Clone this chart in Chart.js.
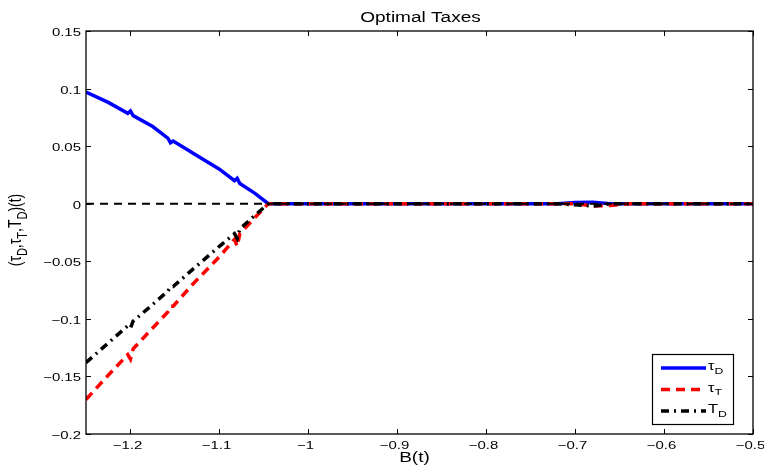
<!DOCTYPE html>
<html>
<head>
<meta charset="utf-8">
<script src="https://cdn.jsdelivr.net/npm/chart.js@4.4.1/dist/chart.umd.min.js"></script>
<style>
  html, body { margin: 0; padding: 0; background: #fff; }
  canvas { display: block; }
</style>
</head>
<body>
<canvas id="grafico" width="764" height="469"></canvas>
<script>
// Dados
const bValues = [-1.25, -1.225, -1.203, -1.2, -1.197, -1.175, -1.158, -1.155, -1.152, -1.13, -1.1,
  -1.083, -1.08, -1.077, -1.06, -1.045, -1.0, -0.9, -0.8, -0.72, -0.7, -0.68, -0.66, -0.64, -0.6, -0.5];
const tauD = [0.097, 0.088, 0.0785, 0.0805, 0.0765, 0.067, 0.057, 0.053, 0.0545, 0.044, 0.030,
  0.020, 0.022, 0.0175, 0.009, 0, 0, 0, 0, 0, 0.001, 0.0012, 0, 0, 0, 0];
const tauT = [-0.170, -0.149, -0.131, -0.135, -0.126, -0.108, -0.094, -0.089, -0.089, -0.070, -0.046,
  -0.031, -0.037, -0.026, -0.012, 0, 0, 0, 0, 0, 0, -0.002, -0.0015, 0, 0, 0];
const capTD = [-0.138, -0.121, -0.106, -0.108, -0.102, -0.0875, -0.076, -0.072, -0.072, -0.057, -0.037,
  -0.026, -0.030, -0.022, -0.010, 0, 0, 0, 0, 0, -0.001, -0.002, 0, 0, 0, 0];
const zeroLineX = [-1.25, -0.5];
const zeroLineY = [0, 0];

const xTicks = [-1.2, -1.1, -1.0, -0.9, -0.8, -0.7, -0.6, -0.5];
const yTicks = [-0.2, -0.15, -0.1, -0.05, 0, 0.05, 0.1, 0.15];

const FONT = "'Liberation Sans', Arial, Helvetica, sans-serif";
const ESTICAR = 1.36; // a figura original foi esticada na horizontal

function pares(xs, ys) {
  return xs.map((x, i) => ({ x: x, y: ys[i] }));
}

function formatTick(v) {
  return String(+v.toFixed(2)).replace('-', '\u2212');
}

// texto com subscritos: partes [texto, ehSub], esticado na horizontal
function textoSub(ctx, partes, x, y, tam, alinhar, esticar) {
  const sub = Math.round(tam * 0.75);
  let largura = 0;
  partes.forEach(p => {
    ctx.font = (p[1] ? sub : tam) + 'px ' + FONT;
    largura += ctx.measureText(p[0]).width;
  });
  ctx.save();
  ctx.translate(x, y);
  ctx.scale(esticar, 1);
  let cx = alinhar === 'center' ? -largura / 2 : (alinhar === 'right' ? -largura : 0);
  ctx.textAlign = 'left';
  ctx.textBaseline = 'alphabetic';
  partes.forEach(p => {
    ctx.font = (p[1] ? sub : tam) + 'px ' + FONT;
    ctx.fillText(p[0], cx, p[1] ? tam * 0.33 : 0);
    cx += ctx.measureText(p[0]).width;
  });
  ctx.restore();
}

const estilos = [
  { label: [['\u03c4', 0], ['D', 1]], color: 'rgb(0,0,255)', dash: [] },
  { label: [['\u03c4', 0], ['T', 1]], color: 'rgb(255,0,0)', dash: [9, 6] },
  { label: [['T', 0], ['D', 1]], color: 'rgb(0,0,0)', dash: [8, 5, 2, 5] }
];

// Plugin para caixa, ticks internos, rótulos, títulos e legenda no estilo MATLAB
const estiloMatlab = {
  id: 'estiloMatlab',
  afterDraw(chart) {
    const ctx = chart.ctx;
    const a = chart.chartArea;
    const sx = chart.scales.x, sy = chart.scales.y;
    ctx.save();
    ctx.strokeStyle = '#000';
    ctx.lineWidth = 1.3;
    ctx.setLineDash([]);
    ctx.strokeRect(a.left, a.top, a.right - a.left, a.bottom - a.top);

    ctx.lineWidth = 1;
    ctx.fillStyle = '#000';
    const tl = 5;
    xTicks.forEach(v => {
      const px = Math.round(sx.getPixelForValue(v)) + 0.5;
      ctx.beginPath();
      ctx.moveTo(px, a.bottom); ctx.lineTo(px, a.bottom - tl);
      ctx.moveTo(px, a.top); ctx.lineTo(px, a.top + tl);
      ctx.stroke();
      textoSub(ctx, [[formatTick(v), 0]], px - 3, a.bottom + 15, 11, 'center', ESTICAR);
    });
    yTicks.forEach(v => {
      const py = Math.round(sy.getPixelForValue(v)) + 0.5;
      ctx.beginPath();
      ctx.moveTo(a.left, py); ctx.lineTo(a.left + tl, py);
      ctx.moveTo(a.right, py); ctx.lineTo(a.right - tl, py);
      ctx.stroke();
      textoSub(ctx, [[formatTick(v), 0]], a.left - 5, py + 4, 11, 'right', ESTICAR);
    });

    // títulos
    const cxArea = (a.left + a.right) / 2;
    textoSub(ctx, [['Optimal Taxes', 0]], cxArea + 1, 22, 14, 'center', ESTICAR);
    textoSub(ctx, [['B(t)', 0]], cxArea - 5, 462, 14, 'center', ESTICAR);

    ctx.save();
    ctx.translate(21, 230);
    ctx.rotate(-Math.PI / 2);
    ctx.scale(1, ESTICAR);
    textoSub(ctx, [['(\u03c4', 0], ['D', 1], [',\u03c4', 0], ['T', 1], [',T', 0], ['D', 1], [')(t)', 0]], 0, 0, 14, 'center', 1);
    ctx.restore();

    // legenda
    const lx = 652, ly = 354, lw = 81, lh = 70;
    ctx.fillStyle = '#fff';
    ctx.fillRect(lx, ly, lw, lh);
    ctx.strokeStyle = '#000';
    ctx.lineWidth = 1.2;
    ctx.strokeRect(lx + 0.5, ly + 0.5, lw, lh);
    estilos.forEach((e, i) => {
      const y = ly + 14 + i * 21.5;
      ctx.strokeStyle = e.color;
      ctx.lineWidth = 3.5;
      ctx.setLineDash(e.dash);
      ctx.beginPath();
      ctx.moveTo(lx + 9, y); ctx.lineTo(lx + 54, y);
      ctx.stroke();
      ctx.setLineDash([]);
      ctx.fillStyle = '#000';
      textoSub(ctx, e.label, lx + 56, y + 2, 12, 'left', ESTICAR);
    });
    ctx.restore();
  }
};

const configGrafico = {
  type: 'line',
  data: {
    datasets: [
      {
        label: 'zero', data: pares(zeroLineX, zeroLineY),
        borderColor: '#000', borderWidth: 2, borderDash: [8, 6], order: 0
      },
      {
        label: 'T_D', data: pares(bValues, capTD),
        borderColor: estilos[2].color, borderWidth: 3.5, borderDash: estilos[2].dash, order: 1
      },
      {
        label: 'tau_T', data: pares(bValues, tauT),
        borderColor: estilos[1].color, borderWidth: 3.5, borderDash: estilos[1].dash, order: 2
      },
      {
        label: 'tau_D', data: pares(bValues, tauD),
        borderColor: estilos[0].color, borderWidth: 3.5, order: 3
      }
    ]
  },
  options: {
    responsive: false,
    animation: false,
    elements: { point: { radius: 0 }, line: { tension: 0, fill: false } },
    layout: { padding: { top: 31, right: 11, left: 0, bottom: 0 } },
    plugins: { legend: { display: false }, tooltip: { enabled: false } },
    scales: {
      x: {
        type: 'linear', min: -1.25, max: -0.5,
        grid: { display: false },
        border: { display: false },
        ticks: { display: false },
        afterBuildTicks: s => { s.ticks = xTicks.map(v => ({ value: v })); },
        afterFit: s => { s.height = 35; s.paddingLeft = 0; s.paddingRight = 0; }
      },
      y: {
        type: 'linear', min: -0.2, max: 0.15,
        grid: { display: false },
        border: { display: false },
        ticks: { display: false },
        afterBuildTicks: s => { s.ticks = yTicks.map(v => ({ value: v })); },
        afterFit: s => { s.width = 86; s.paddingTop = 0; s.paddingBottom = 0; }
      }
    }
  },
  plugins: [estiloMatlab]
};

const grafico = new Chart(document.getElementById('grafico'), configGrafico);
</script>
</body>
</html>
